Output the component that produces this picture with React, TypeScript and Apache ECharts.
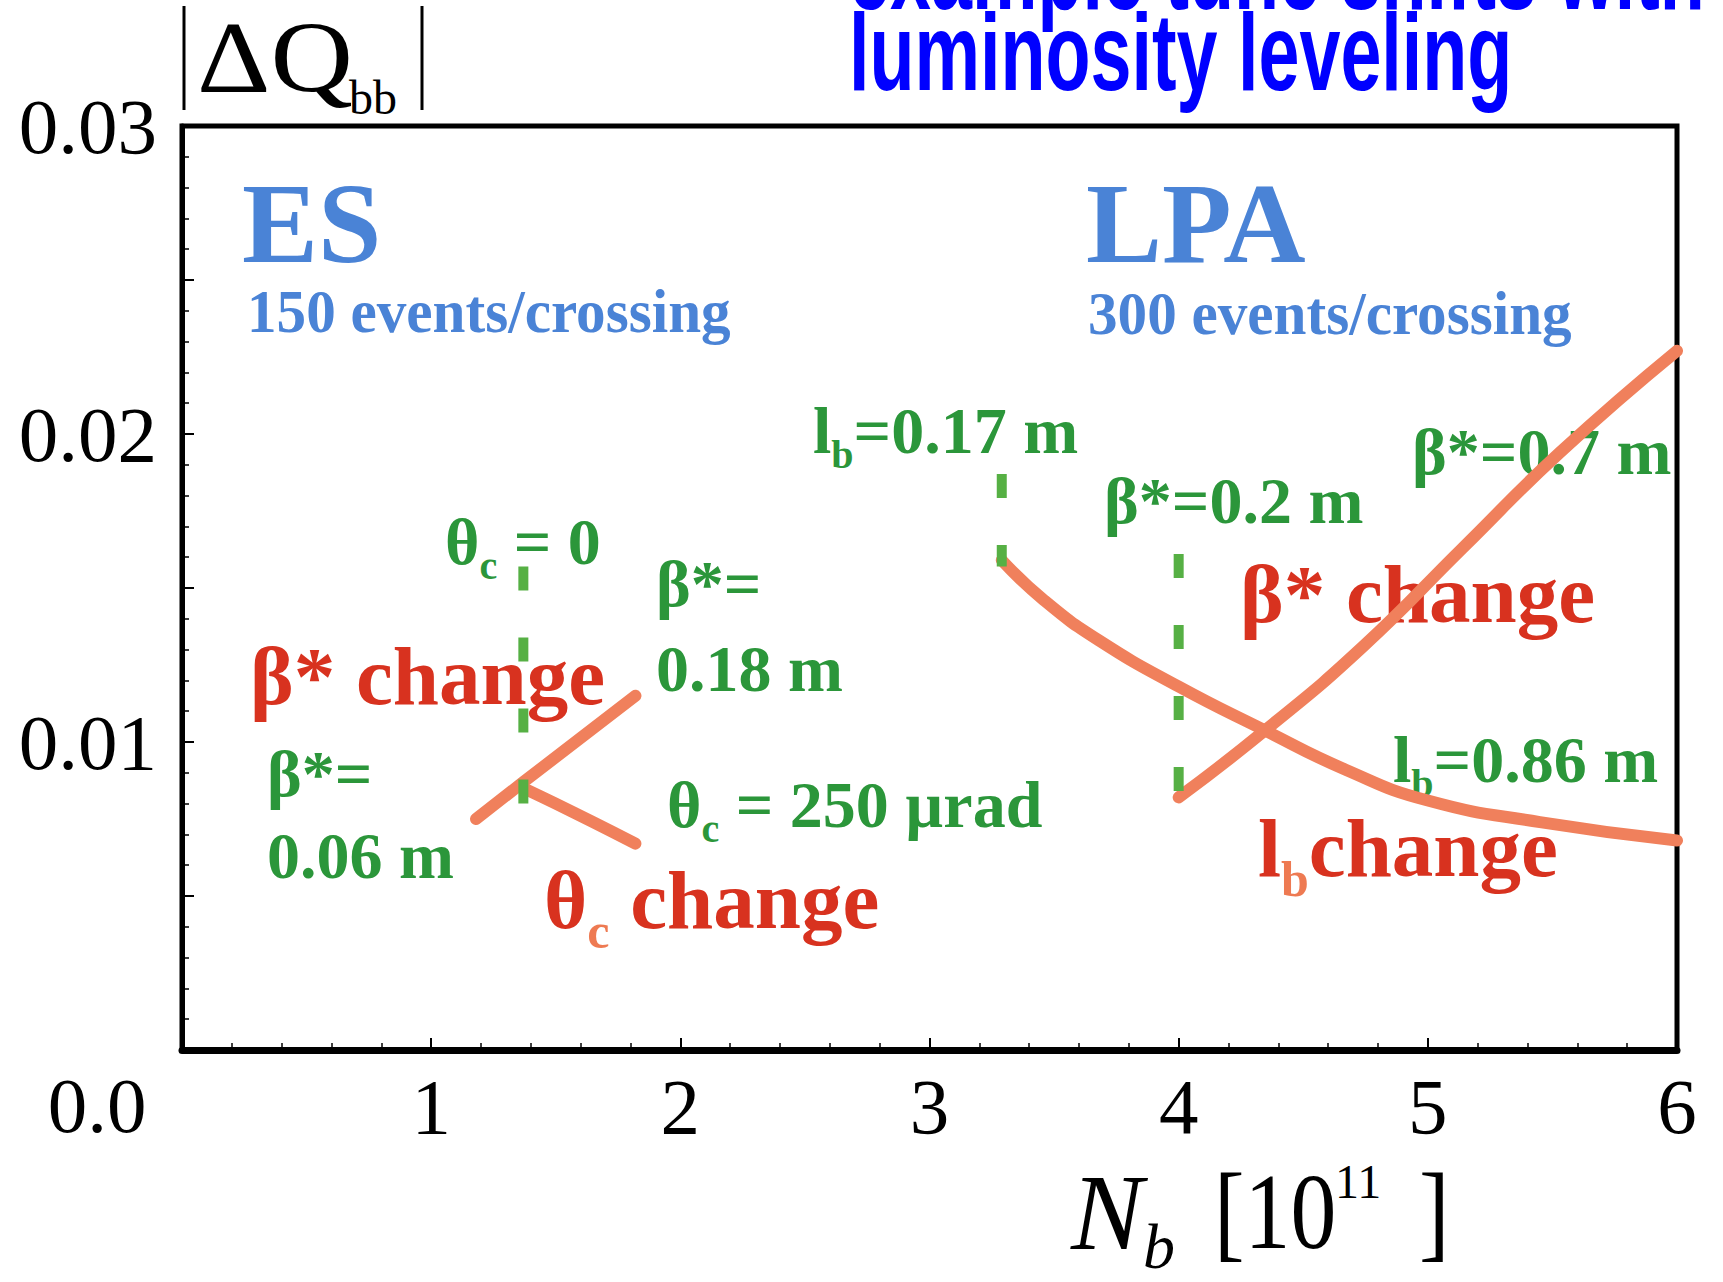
import React, { useEffect, useRef } from 'react';
import * as echarts from 'echarts';

// Axis ranges and tick labels
const X_MIN = 0;
const X_MAX = 6;
const Y_MIN = 0;
const Y_MAX = 0.03;
const xTickLabels = ['1', '2', '3', '4', '5', '6'];
const yTickLabels = ['0.01', '0.02', '0.03'];

// ES (150 events/crossing): beta* change and crossing-angle change
const betaES_N = [1.18, 1.37, 1.82];
const betaES_dQ = [0.0075, 0.0087, 0.0115];
const thetaES_N = [1.37, 1.5, 1.65, 1.82];
const thetaES_dQ = [0.0085, 0.008, 0.0074, 0.0067];

// LPA (300 events/crossing): bunch-length change and beta* change
const lbLPA_N = [3.29, 3.46, 3.68, 4.0, 4.34, 4.67, 5.0, 5.45, 6.0];
const lbLPA_dQ = [0.0159, 0.0146, 0.0133, 0.0118, 0.0104, 0.0091, 0.0081, 0.0074, 0.0068];
const betaLPA_N = [4.0, 4.35, 4.74, 5.14, 5.53, 6.0];
const betaLPA_dQ = [0.0082, 0.0104, 0.0131, 0.0163, 0.0194, 0.0227];

// Starting-point markers (vertical dashed lines): N_b, top, bottom
const markerN = [1.37, 3.29, 4.0];
const markerTop = [0.0157, 0.0187, 0.0161];
const markerBottom = [0.0079, 0.0157, 0.0082];

const SERIF = '"Liberation Serif", "Times New Roman", serif';
const SANS = '"Liberation Sans", Arial, sans-serif';
const GREEN = '#2b963a';
const RED = '#d8321f';
const SUB_ORANGE = '#ee7a52';
const BLUE = '#4a83d6';
const CURVE = '#f0805c';
const DASH = '#56b044';
const TITLE_BLUE = '#0000ff';

const zip = (xs: number[], ys: number[]) => xs.map((x, i) => [x, ys[i]]);

type Part = [string, boolean];

function plain(
  x: number,
  y: number,
  text: string,
  size: number,
  color: string,
  opts: { family?: string; weight?: string; italic?: boolean; align?: string; scaleX?: number } = {}
) {
  const align = opts.align ?? 'left';
  return {
    type: 'text',
    x,
    y,
    scaleX: opts.scaleX ?? 1,
    z: 1,
    silent: true,
    style: {
      text,
      fill: color,
      fontSize: size,
      fontFamily: opts.family ?? SERIF,
      fontWeight: opts.weight ?? 'bold',
      fontStyle: opts.italic ? 'italic' : 'normal',
      align,
      textAlign: align,
      verticalAlign: 'middle',
      textVerticalAlign: 'middle',
    },
  };
}

function withSub(x: number, y: number, parts: Part[], size: number, color: string, subColor: string) {
  const text = parts.map(([t, sub]) => `{${sub ? 's' : 'm'}|${t}}`).join('');
  const s = Math.round(size * 0.6);
  return {
    type: 'text',
    x,
    y,
    z: 1,
    silent: true,
    style: {
      text,
      align: 'left',
      textAlign: 'left',
      verticalAlign: 'middle',
      textVerticalAlign: 'middle',
      rich: {
        m: { fontSize: size, fontFamily: SERIF, fontWeight: 'bold', fill: color, lineHeight: Math.round(size * 1.35) },
        s: { fontSize: s, fontFamily: SERIF, fontWeight: 'bold', fill: subColor, lineHeight: s, verticalAlign: 'bottom' },
      },
    },
  };
}

const NB = '\u00a0';

export default function App() {
  const ref = useRef<HTMLDivElement>(null);

  useEffect(() => {
    if (!ref.current) return;
    const chart = echarts.init(ref.current, undefined, { renderer: 'svg' });

    const curveStyle = { color: CURVE, width: 12, cap: 'round', join: 'round' };
    const curve = (name: string, xs: number[], ys: number[], smooth: number) => ({
      name,
      type: 'line',
      data: zip(xs, ys),
      showSymbol: false,
      smooth,
      lineStyle: curveStyle,
      z: 3,
      silent: true,
    });

    const markers = markerN.map((n, i) => ({
      name: `marker${i}`,
      type: 'line',
      data: [
        [n, markerTop[i]],
        [n, markerBottom[i]],
      ],
      showSymbol: false,
      lineStyle: { color: DASH, width: 10, type: [24, 47], cap: 'butt' },
      z: 4,
      silent: true,
    }));

    const G = 66;
    const R = 83;

    const graphics: any[] = [
      // title
      plain(849, -29, 'example tune shifts with', 110, TITLE_BLUE, { family: SANS, scaleX: 0.67 }),
      plain(849, 52, 'luminosity leveling', 110, TITLE_BLUE, { family: SANS, scaleX: 0.67 }),

      // y-axis name |ΔQbb|
      { type: 'line', silent: true, shape: { x1: 184, y1: 6, x2: 184, y2: 110 }, style: { stroke: '#000', lineWidth: 3 } },
      plain(197, 58, 'ΔQ', 102, '#000', { weight: 'normal', scaleX: 1.12 }),
      plain(349, 97, 'bb', 48, '#000', { weight: 'normal' }),
      { type: 'line', silent: true, shape: { x1: 422, y1: 6, x2: 422, y2: 110 }, style: { stroke: '#000', lineWidth: 3 } },

      // origin label
      plain(97, 1105, '0.0', 79, '#000', { weight: 'normal', align: 'center' }),

      // x-axis name N_b [10^11]
      plain(1071, 1212, 'N', 108, '#000', { weight: 'normal', italic: true }),
      plain(1143, 1246, 'b', 64, '#000', { weight: 'normal', italic: true }),
      plain(1214, 1212, '[10', 108, '#000', { weight: 'normal', scaleX: 0.85 }),
      plain(1335, 1181, '11', 48, '#000', { weight: 'normal' }),
      plain(1419, 1212, ']', 108, '#000', { weight: 'normal', scaleX: 0.85 }),

      // scenario headers
      plain(242, 223, 'ES', 114, BLUE),
      plain(247, 311, '150 events/crossing', 61, BLUE, { scaleX: 0.97 }),
      plain(1086, 223, 'LPA', 114, BLUE),
      plain(1088, 313, '300 events/crossing', 61, BLUE, { scaleX: 0.97 }),

      // parameter values at the marked points
      withSub(813, 430, [['l', false], ['b', true], ['=0.17' + NB + 'm', false]], G, GREEN, GREEN),
      withSub(445, 541, [['θ', false], ['c', true], [NB + '=' + NB + '0', false]], G, GREEN, GREEN),
      plain(656, 583, 'β*=', G, GREEN),
      plain(656, 668, '0.18 m', G, GREEN),
      plain(1104, 500, 'β*=0.2 m', G, GREEN),
      plain(1412, 451, 'β*=0.7 m', G, GREEN),
      plain(267, 773, 'β*=', G, GREEN),
      plain(267, 855, '0.06 m', G, GREEN),
      withSub(667, 804, [['θ', false], ['c', true], [NB + '=' + NB + '250' + NB + 'µrad', false]], G, GREEN, GREEN),
      withSub(1393, 759, [['l', false], ['b', true], ['=0.86' + NB + 'm', false]], G, GREEN, GREEN),

      // curve descriptions
      plain(250, 676, 'β* change', R, RED),
      withSub(544, 900, [['θ', false], ['c', true], [NB + 'change', false]], R, RED, SUB_ORANGE),
      plain(1240, 594, 'β* change', R, RED),
      withSub(1258, 848, [['l', false], ['b', true], ['change', false]], R, RED, SUB_ORANGE),
    ];

    chart.setOption({
      animation: false,
      backgroundColor: '#ffffff',
      grid: {
        left: 182,
        top: 126,
        right: 46,
        bottom: 232,
        show: true,
        borderColor: '#000',
        borderWidth: 5,
        backgroundColor: 'transparent',
      },
      xAxis: {
        type: 'value',
        min: X_MIN,
        max: X_MAX,
        interval: 1,
        axisLine: { show: true, onZero: false, lineStyle: { color: '#000', width: 7 } },
        axisTick: { show: true, inside: true, length: 12, lineStyle: { color: '#000', width: 2 } },
        minorTick: { show: true, splitNumber: 5, length: 7, lineStyle: { color: '#000', width: 1.5 } },
        splitLine: { show: false },
        minorSplitLine: { show: false },
        axisLabel: {
          margin: 17,
          fontSize: 79,
          fontFamily: SERIF,
          color: '#000',
          formatter: (v: number) => {
            const i = Math.round(v) - 1;
            return i >= 0 && i < xTickLabels.length ? xTickLabels[i] : '';
          },
        },
      },
      yAxis: {
        type: 'value',
        min: Y_MIN,
        max: Y_MAX,
        interval: 0.005,
        axisLine: { show: true, onZero: false, lineStyle: { color: '#000', width: 5 } },
        axisTick: { show: true, inside: true, length: 12, lineStyle: { color: '#000', width: 2 } },
        minorTick: { show: true, splitNumber: 5, length: 7, lineStyle: { color: '#000', width: 1.5 } },
        splitLine: { show: false },
        minorSplitLine: { show: false },
        axisLabel: {
          margin: 25,
          fontSize: 79,
          fontFamily: SERIF,
          color: '#000',
          formatter: (v: number) => {
            const k = Math.round(v / 0.005);
            if (k === 0 || k % 2 !== 0) return '';
            return yTickLabels[k / 2 - 1] ?? '';
          },
        },
      },
      series: [
        curve('betaES', betaES_N, betaES_dQ, 0),
        curve('thetaES', thetaES_N, thetaES_dQ, 0.3),
        curve('lbLPA', lbLPA_N, lbLPA_dQ, 0.5),
        curve('betaLPA', betaLPA_N, betaLPA_dQ, 0.5),
        ...markers,
      ],
      graphic: graphics,
    });

    return () => chart.dispose();
  }, []);

  return (
    <div
      ref={ref}
      style={{ position: 'fixed', left: 0, top: 0, width: 1723, height: 1282, background: '#fff' }}
    />
  );
}
